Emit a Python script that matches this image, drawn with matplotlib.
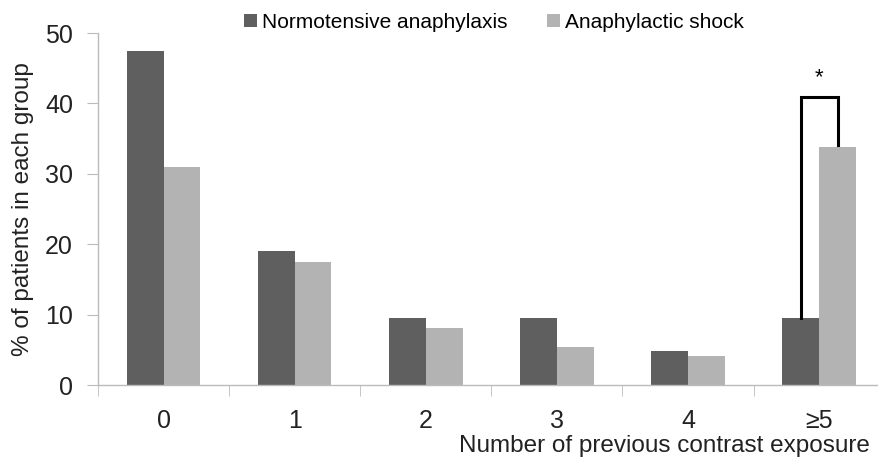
import matplotlib
matplotlib.use("Agg")
import matplotlib.pyplot as plt
import numpy as np

categories = ["0", "1", "2", "3", "4", "≥5"]
normotensive = [47.4, 19.0, 9.5, 9.5, 4.8, 9.5]
shock = [31.0, 17.5, 8.1, 5.4, 4.1, 33.8]
yticks = [0, 10, 20, 30, 40, 50]

plt.rcParams['font.family'] = ['Liberation Sans', 'DejaVu Sans']

fig = plt.figure(figsize=(8.79, 4.65), dpi=100)
ax = fig.add_axes([0.1115, 0.172, 0.895, 0.757])

x = np.arange(len(categories))
w = 0.28
dark = '#5f5f5f'
light = '#b3b3b3'
ax.bar(x - w/2, normotensive, width=w, color=dark, label='Normotensive anaphylaxis')
ax.bar(x + w/2, shock, width=w, color=light, label='Anaphylactic shock')

ax.set_xlim(-0.5, 5.5)
ax.set_ylim(0, 50)
ax.set_yticks(yticks)
ax.set_yticklabels([str(t) for t in yticks], fontsize=18, color='#222222')
ax.set_xticks(x)
ax.set_xticklabels(categories, fontsize=18, color='#222222')
ax.set_xticks(np.arange(-0.5, 6.0, 1.0), minor=True)
ax.tick_params(axis='x', which='major', length=0, pad=17)
ax.tick_params(axis='x', which='minor', length=8, color='#bbbbbb', direction='out')
ax.tick_params(axis='y', length=8, color='#bbbbbb', direction='out', pad=10)

for s in ['top', 'right']:
    ax.spines[s].set_visible(False)
for s in ['left', 'bottom']:
    ax.spines[s].set_color('#bbbbbb')
    ax.spines[s].set_linewidth(1.0)

ax.set_ylabel('% of patients in each group', fontsize=17.5, color='#222222', labelpad=8)
fig.text(0.99, 0.028, 'Number of previous contrast exposure', ha='right', va='baseline',
         fontsize=17.5, color='#222222')

# significance bracket
i = 5
top = 40.9
ax.plot([i - w/2, i - w/2, i + w/2, i + w/2],
        [normotensive[i], top, top, shock[i] + 0.3], color='black', lw=2.2,
        solid_joinstyle='miter')
ax.text(i, top + 1.2, '*', ha='center', va='bottom', fontsize=16, color='black')

leg = fig.legend(loc='upper center', bbox_to_anchor=(0.562, 1.012), ncol=2, frameon=False,
                 fontsize=15, handlelength=0.6, handleheight=0.6, handletextpad=0.25,
                 columnspacing=1.9)

fig.savefig('out.png', dpi=100)
